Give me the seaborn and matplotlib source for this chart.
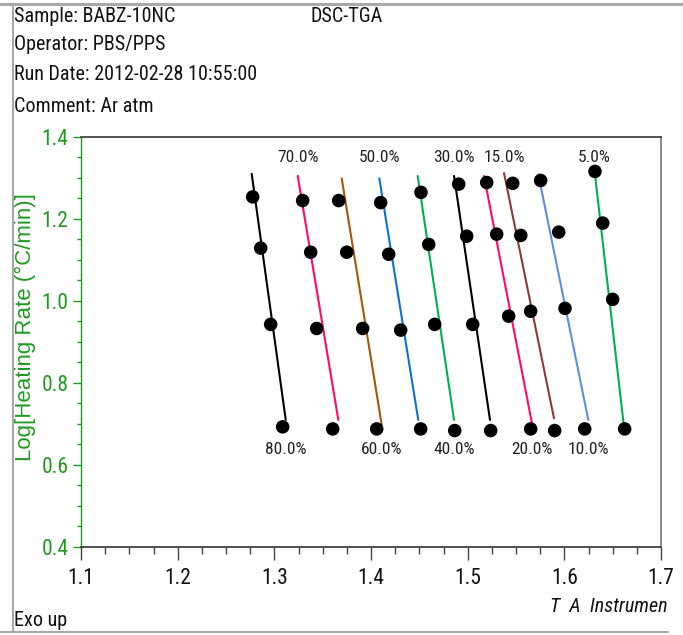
import numpy as np
import pandas as pd
import matplotlib
matplotlib.use("Agg")
import matplotlib.pyplot as plt
from matplotlib import font_manager
from matplotlib.font_manager import FontProperties
from matplotlib.lines import Line2D
from matplotlib.ticker import MultipleLocator
import seaborn as sns

# ---------------- data ----------------
levels = ["80.0%", "70.0%", "60.0%", "50.0%", "40.0%", "30.0%", "20.0%", "15.0%", "10.0%", "5.0%"]
label_side = ["bottom", "top", "bottom", "top", "bottom", "top", "bottom", "top", "bottom", "top"]

# measured points at four heating rates (x = 1000/T, y = log heating rate)
x_r1 = [1.2776, 1.3293, 1.3666, 1.4100, 1.4517, 1.4907, 1.5197, 1.5466, 1.5755, 1.6317]
y_r1 = [1.254, 1.245, 1.245, 1.240, 1.265, 1.285, 1.289, 1.287, 1.294, 1.316]
x_r2 = [1.2859, 1.3376, 1.3749, 1.4183, 1.4597, 1.4990, 1.5300, 1.5549, 1.5942, 1.6397]
y_r2 = [1.129, 1.119, 1.119, 1.114, 1.138, 1.158, 1.163, 1.160, 1.168, 1.190]
x_r3 = [1.2962, 1.3438, 1.3914, 1.4307, 1.4659, 1.5052, 1.5424, 1.5652, 1.6007, 1.6500]
y_r3 = [0.943, 0.933, 0.933, 0.929, 0.943, 0.943, 0.963, 0.975, 0.982, 1.004]
x_r4 = [1.3086, 1.3604, 1.4059, 1.4514, 1.4866, 1.5238, 1.5652, 1.5900, 1.6211, 1.6624]
y_r4 = [0.693, 0.688, 0.688, 0.688, 0.684, 0.684, 0.688, 0.684, 0.688, 0.688]

# fitted iso-conversion lines (end points)
fit_x_top = [1.2766, 1.3242, 1.3697, 1.4086, 1.4483, 1.4859, 1.5169, 1.5376, 1.5731, 1.6307]
fit_y_top = [1.310, 1.305, 1.299, 1.299, 1.305, 1.305, 1.305, 1.312, 1.309, 1.329]
fit_x_bot = [1.3118, 1.3662, 1.4111, 1.4489, 1.4859, 1.5231, 1.5665, 1.5893, 1.6248, 1.6617]
fit_y_bot = [0.710, 0.710, 0.698, 0.710, 0.710, 0.710, 0.702, 0.714, 0.710, 0.693]

line_colors = ["#000000", "#ff0a6a", "#a4560c", "#0a72cc", "#00b050",
               "#000000", "#ff0a6a", "#8b3a3a", "#5b90dc", "#00b050"]

x_ticks = [1.1, 1.2, 1.3, 1.4, 1.5, 1.6, 1.7]
y_ticks = [0.4, 0.6, 0.8, 1.0, 1.2, 1.4]

header_lines = ["Sample: BABZ-10NC", "Operator: PBS/PPS", "Run Date: 2012-02-28 10:55:00", "Comment: Ar atm"]

# ---------------- fonts ----------------
sns.set_theme(style="white")
REG = ["Liberation Sans", "DejaVu Sans"]
plt.rcParams["font.family"] = REG


def find_narrow():
    prefs = ["liberation sans narrow", "arial narrow", "roboto condensed", "dejavu sans condensed",
             "open sans condensed", "noto sans condensed"]
    entries = font_manager.fontManager.ttflist
    for p in prefs:
        for f in entries:
            if f.name.lower() == p and f.style == "normal" and f.weight in (400, "normal", "regular"):
                return f
    for f in entries:
        st = f.stretch
        cond = (isinstance(st, str) and "condensed" in st) or (isinstance(st, (int, float)) and st < 500)
        if (cond or "narrow" in f.name.lower() or "condensed" in f.name.lower()) \
                and f.style == "normal" and f.weight in (400, "normal", "regular"):
            return f
    return None


_nf = find_narrow()


def find_narrow_italic():
    if _nf is None:
        return None
    for f in font_manager.fontManager.ttflist:
        if f.name == _nf.name and f.stretch == _nf.stretch and f.style in ("italic", "oblique") \
                and f.weight in (400, "normal", "regular"):
            return f
    return None


_nfi = find_narrow_italic()


def NFP(size, italic=False):
    if italic and _nfi is not None:
        return FontProperties(fname=_nfi.fname, size=size)
    if _nf is not None and not italic:
        return FontProperties(fname=_nf.fname, size=size)
    # no narrow face: regular Arial-metric face scaled to the same width
    return FontProperties(family=REG, size=size * 0.84, style="italic" if italic else "normal")


GREEN = "#1f9a1f"

# ---------------- frames ----------------
pts = pd.DataFrame({
    "x": x_r1 + x_r2 + x_r3 + x_r4,
    "y": y_r1 + y_r2 + y_r3 + y_r4,
})
lines = pd.DataFrame({
    "x": fit_x_top + fit_x_bot,
    "y": fit_y_top + fit_y_bot,
    "level": levels + levels,
})

W, H = 683, 635
fig = plt.figure(figsize=(W / 100, H / 100), dpi=100)
fig.patch.set_facecolor("white")
ax = fig.add_axes([81 / W, 1 - 547 / H, (661 - 81) / W, (547 - 137) / H])
ax.set_facecolor("white")

sns.lineplot(data=lines, x="x", y="y", hue="level", hue_order=levels,
             palette=dict(zip(levels, line_colors)), estimator=None, sort=False,
             linewidth=1.5, legend=False, ax=ax, zorder=2)
sns.scatterplot(data=pts, x="x", y="y", color="black", s=95, edgecolor="none",
                legend=False, ax=ax, zorder=3)

for lev, side, xt, xb in zip(levels, label_side, fit_x_top, fit_x_bot):
    if side == "top":
        ax.text(xt, 1.351, lev, ha="center", va="center", color="#222222", fontproperties=NFP(12.5))
    else:
        ax.text(xb, 0.6366, lev, ha="center", va="center", color="#222222", fontproperties=NFP(12.5))

ax.set_xlim(1.1, 1.7)
ax.set_ylim(0.4, 1.4)
ax.set_xticks(x_ticks)
ax.set_yticks(y_ticks)
ax.set_xticklabels([f"{v:.1f}" for v in x_ticks], color="#111111", fontproperties=NFP(15.5))
ax.set_yticklabels([f"{v:.1f}" for v in y_ticks], color=GREEN, fontproperties=NFP(15.5))
ax.xaxis.set_minor_locator(MultipleLocator(0.025))
ax.yaxis.set_minor_locator(MultipleLocator(0.05))
ax.tick_params(axis="x", which="major", direction="out", length=9, width=1, color="#444444", pad=6, bottom=True)
ax.tick_params(axis="x", which="minor", direction="out", length=5, width=1, color="#444444", bottom=True)
ax.tick_params(axis="y", which="major", direction="out", length=6, width=1, color=GREEN, pad=3, left=True)
ax.tick_params(axis="y", which="minor", direction="out", length=3, width=1, color=GREEN, left=True)
ax.set_xlabel("")
ax.set_ylabel("Log[Heating Rate (°C/min)]", color=GREEN, fontsize=16, family=REG)
ax.yaxis.set_label_coords((36 - 81) / 580, (547 - 327) / 410)

for side in ["top", "bottom", "right"]:
    ax.spines[side].set_visible(True)
    ax.spines[side].set_color("#333333")
    ax.spines[side].set_linewidth(1.2)
ax.spines["right"].set_color("#777777")
ax.spines["left"].set_color(GREEN)
ax.spines["left"].set_linewidth(1.0)
ax.grid(False)

# ---------------- header / footer ----------------
hdr_y = [17, 45, 75, 106]
for txt, yy in zip(header_lines, hdr_y):
    fig.text(14 / W, 1 - yy / H, txt, ha="left", va="center", color="#111111", fontproperties=NFP(14.5))
fig.text(310 / W, 1 - 17 / H, "DSC-TGA", ha="left", va="center", color="#111111", fontproperties=NFP(14.5))
fig.text(14 / W, 1 - 620 / H, "Exo up", ha="left", va="center", color="#111111", fontproperties=NFP(14.5))
fig.text(668 / W, 1 - 606 / H, "T  A  Instrumen", ha="right", va="center",
         color="#111111", fontproperties=NFP(14.5, italic=True))

# page borders
bc = "#a8a8a8"
fig.add_artist(Line2D([0, 1], [1 - 4 / H, 1 - 4 / H], transform=fig.transFigure, color=bc, lw=2.2, zorder=21))
fig.add_artist(Line2D([13 / W, 13 / W], [1 - 4 / H, 1 - 632 / H], transform=fig.transFigure, color=bc, lw=1.5, zorder=21))
fig.add_artist(Line2D([0, 668 / W], [1 - 632 / H, 1 - 632 / H], transform=fig.transFigure, color=bc, lw=1.5, zorder=21))

fig.savefig("out.png", dpi=100, facecolor="white")
